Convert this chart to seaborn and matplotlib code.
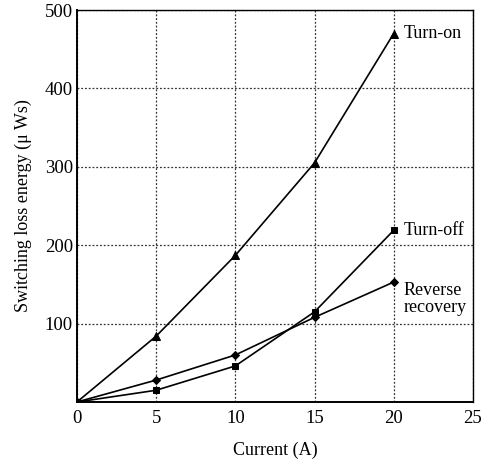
import matplotlib
matplotlib.use("Agg")
import matplotlib.pyplot as plt
import seaborn as sns
import pandas as pd

current = [0, 5, 10, 15, 20]
turn_on = [0, 84, 187, 305, 470]
turn_off = [0, 15, 46, 115, 219]
reverse_recovery = [0, 28, 60, 108, 153]

series_names = ["Turn-on", "Turn-off", "Reverse\nrecovery"]
series_values = [turn_on, turn_off, reverse_recovery]
series_markers = ["^", "s", "D"]
marker_sizes = [5.5, 5, 4]

sns.set_theme(style="white")
plt.rcParams["font.family"] = ["Liberation Serif", "DejaVu Serif"]

rows = []
for name, vals in zip(series_names, series_values):
    for x, y in zip(current, vals):
        rows.append({"Current": x, "Energy": y, "Series": name})
df = pd.DataFrame(rows)

fig = plt.figure(figsize=(4.87, 4.66), dpi=100)
ax = fig.add_axes([0.158, 0.1373, 0.813, 0.8412])

for name, mk, ms in zip(series_names, series_markers, marker_sizes):
    sub = df[df["Series"] == name]
    sns.lineplot(data=sub, x="Current", y="Energy", ax=ax, color="black",
                 marker=mk, markersize=ms, markeredgecolor="black",
                 linewidth=1.2, legend=False, zorder=3)

ax.set_xlim(0, 25)
ax.set_ylim(0, 500)
ax.set_xticks([0, 5, 10, 15, 20, 25])
ax.set_yticks([100, 200, 300, 400, 500])
ax.tick_params(axis="both", labelsize=13.5, length=0, colors="black")
ax.tick_params(axis="y", pad=3)
ax.tick_params(axis="x", pad=6)
ax.grid(True, linestyle=(0, (1.5, 1.5)), color="#333333", linewidth=0.9)
for s in ax.spines.values():
    s.set_color("black")
    s.set_linewidth(1.0)
ax.spines["left"].set_linewidth(1.4)
ax.spines["bottom"].set_linewidth(1.4)

ax.set_xlabel("Current (A)", fontsize=13, color="black", labelpad=10)
ax.set_ylabel("Switching loss energy (\u03bc Ws)", fontsize=13, color="black", labelpad=9)

label_offsets = [(20.6, turn_on[-1]), (20.6, turn_off[-1]), (20.6, reverse_recovery[-1])]
for name, (lx, ly) in zip(series_names, label_offsets):
    ax.text(lx, ly, name, fontsize=13, color="black",
            va="center" if "\n" not in name else "top", ha="left",
            linespacing=1.0)

fig.savefig("out.png", dpi=100)
